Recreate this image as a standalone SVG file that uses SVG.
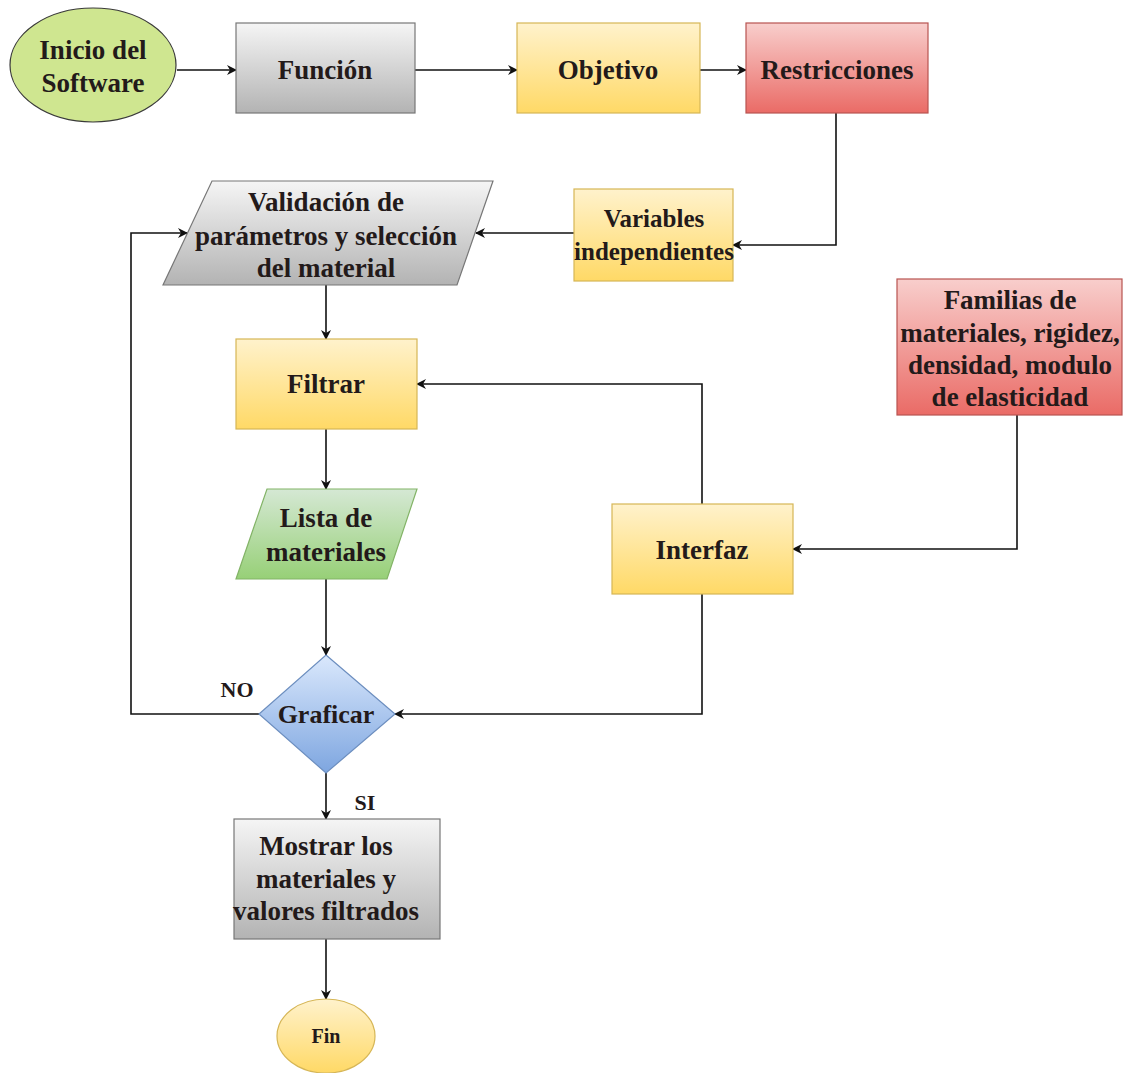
<svg xmlns="http://www.w3.org/2000/svg" width="1124" height="1073" viewBox="0 0 1124 1073">
  <defs>
    <linearGradient id="gGray" x1="0" y1="0" x2="0" y2="1">
      <stop offset="0" stop-color="#f5f5f5"/>
      <stop offset="1" stop-color="#b3b3b3"/>
    </linearGradient>
    <linearGradient id="gYellow" x1="0" y1="0" x2="0" y2="1">
      <stop offset="0" stop-color="#fff2cc"/>
      <stop offset="1" stop-color="#ffd966"/>
    </linearGradient>
    <linearGradient id="gRed" x1="0" y1="0" x2="0" y2="1">
      <stop offset="0" stop-color="#f8cecc"/>
      <stop offset="1" stop-color="#ea6b66"/>
    </linearGradient>
    <linearGradient id="gGreen" x1="0" y1="0" x2="0" y2="1">
      <stop offset="0" stop-color="#d5e8d4"/>
      <stop offset="1" stop-color="#97d077"/>
    </linearGradient>
    <linearGradient id="gBlue" x1="0" y1="0" x2="0" y2="1">
      <stop offset="0" stop-color="#dae8fc"/>
      <stop offset="1" stop-color="#7ea6e0"/>
    </linearGradient>
    <marker id="arrow" viewBox="0 0 10 10" refX="9" refY="5" markerWidth="10" markerHeight="10" markerUnits="userSpaceOnUse" orient="auto">
      <path d="M0,0 L10,5 L0,10 L3,5 z" fill="#111"/>
    </marker>
  </defs>
  <style>
    text { font-family: "Liberation Serif", "Times New Roman", serif; font-weight: bold; fill: #231a1a; text-anchor: middle; }
    .lbl { font-size: 27px; }
    .mid { font-size: 26px; }
    .var { font-size: 25px; }
    .tag { font-size: 22px; }
    .small { font-size: 20px; }
    .gray { fill: url(#gGray); stroke: #777; stroke-width: 1.2; }
    .yellow { fill: url(#gYellow); stroke: #d6b656; stroke-width: 1.2; }
    .red { fill: url(#gRed); stroke: #b85450; stroke-width: 1.2; }
    .green { fill: url(#gGreen); stroke: #82b366; stroke-width: 1.2; }
    .blue { fill: url(#gBlue); stroke: #6c8ebf; stroke-width: 1.2; }
    .start { fill: #cfe690; stroke: #3a3a3a; stroke-width: 1.2; }
    .edge { fill: none; stroke: #111; stroke-width: 1.6; marker-end: url(#arrow); }
  </style>

  <rect width="1124" height="1073" fill="#ffffff"/>

  <!-- connectors -->
  <g id="connectors">
    <path class="edge" d="M177,70 L236,70"/>
    <path class="edge" d="M415,70 L517,70"/>
    <path class="edge" d="M700,70 L746,70"/>
    <path class="edge" d="M836,113 L836,245 L733,245"/>
    <path class="edge" d="M574,233 L476,233"/>
    <path class="edge" d="M326,285 L326,339"/>
    <path class="edge" d="M326,429 L326,489"/>
    <path class="edge" d="M326,579 L326,655"/>
    <path class="edge" d="M326,773 L326,819"/>
    <path class="edge" d="M326,939 L326,999"/>
    <path class="edge" d="M259,714 L131,714 L131,233 L187,233"/>
    <path class="edge" d="M1017,415 L1017,549 L793,549"/>
    <path class="edge" d="M702,504 L702,384 L417,384"/>
    <path class="edge" d="M702,594 L702,714 L395,714"/>
  </g>

  <!-- nodes -->
  <g id="inicio">
    <ellipse class="start" cx="93" cy="65" rx="83" ry="57"/>
    <text class="lbl" x="93" y="59">Inicio del</text>
    <text class="lbl" x="93" y="92">Software</text>
  </g>

  <g id="funcion">
    <rect class="gray" x="236" y="23" width="179" height="90"/>
    <text class="lbl" x="325" y="79">Función</text>
  </g>

  <g id="objetivo">
    <rect class="yellow" x="517" y="23" width="183" height="90"/>
    <text class="lbl" x="608" y="79">Objetivo</text>
  </g>

  <g id="restricciones">
    <rect class="red" x="746" y="23" width="182" height="90"/>
    <text class="lbl" x="837" y="79">Restricciones</text>
  </g>

  <g id="variables">
    <rect class="yellow" x="574" y="189" width="159" height="92"/>
    <text class="var" x="654" y="227">Variables</text>
    <text class="var" x="654" y="260">independientes</text>
  </g>

  <g id="validacion">
    <polygon class="gray" points="212,181 493,181 457,285 163,285"/>
    <text class="lbl" x="326" y="211">Validación de</text>
    <text class="lbl" x="326" y="245">parámetros y selección</text>
    <text class="lbl" x="326" y="277">del material</text>
  </g>

  <g id="filtrar">
    <rect class="yellow" x="236" y="339" width="181" height="90"/>
    <text class="lbl" x="326" y="393">Filtrar</text>
  </g>

  <g id="lista">
    <polygon class="green" points="267,489 417,489 387,579 236,579"/>
    <text class="lbl" x="326" y="527">Lista de</text>
    <text class="lbl" x="326" y="561">materiales</text>
  </g>

  <g id="familias">
    <rect class="red" x="897" y="279" width="225" height="136"/>
    <text class="lbl" x="1010" y="309">Familias de</text>
    <text class="lbl" x="1010" y="342">materiales, rigidez,</text>
    <text class="lbl" x="1010" y="374">densidad, modulo</text>
    <text class="lbl" x="1010" y="406">de elasticidad</text>
  </g>

  <g id="interfaz">
    <rect class="yellow" x="612" y="504" width="181" height="90"/>
    <text class="lbl" x="702" y="559">Interfaz</text>
  </g>

  <g id="graficar">
    <polygon class="blue" points="326,655 395,714 326,773 259,714"/>
    <text class="mid" x="326" y="723">Graficar</text>
  </g>

  <g id="etiquetas">
    <text class="tag" x="237" y="697">NO</text>
    <text class="tag" x="365" y="810">SI</text>
  </g>

  <g id="mostrar">
    <rect class="gray" x="234" y="819" width="206" height="120"/>
    <text class="lbl" x="326" y="855">Mostrar los</text>
    <text class="lbl" x="326" y="888">materiales y</text>
    <text class="lbl" x="326" y="920">valores filtrados</text>
  </g>

  <g id="fin">
    <ellipse class="yellow" cx="326" cy="1036" rx="49" ry="37"/>
    <text class="small" x="326" y="1043">Fin</text>
  </g>
</svg>
